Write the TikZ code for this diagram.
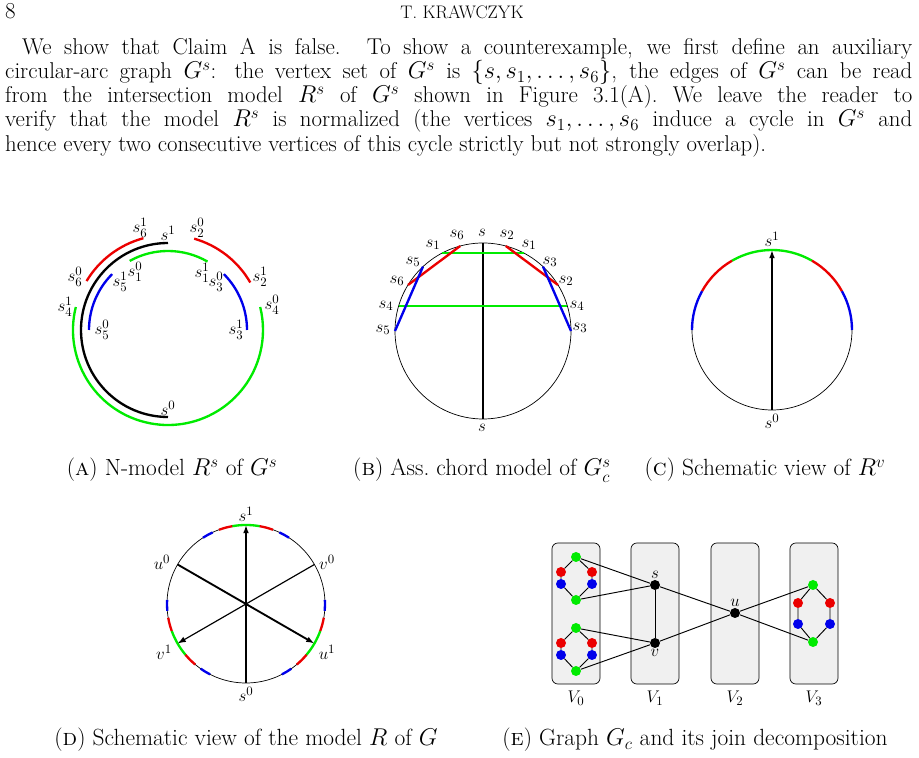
\documentclass[tikz,border=0pt]{standalone}
\usepackage{amsmath,amssymb}
\usetikzlibrary{arrows.meta}
\definecolor{arcgreen}{RGB}{0,235,0}
\definecolor{arcred}{RGB}{235,0,0}
\definecolor{arcblue}{RGB}{0,0,235}
\begin{document}
\begin{tikzpicture}[x=0.03cm, y=0.03cm, >={Latex[length=7pt,width=5pt]},
    txt/.style={inner sep=0pt, anchor=base west, font=\fontsize{19.5}{22}\selectfont},
    capt/.style={inner sep=0pt, anchor=base, font=\fontsize{20}{23}\selectfont},
    lab/.style={inner sep=0pt, font=\fontsize{15}{17}\selectfont},
    thk/.style={line width=2pt},
    vtx/.style={circle, fill, inner sep=0pt, minimum size=0.3cm},
    part/.style={draw, fill=gray!12, rounded corners=5pt, line width=0.6pt}]
    \useasboundingbox (0,0) rectangle (919,758);
    % page head and text
    \node[txt] (pnum) at (5,739) {8};
    \node[txt, anchor=base, font=\fontsize{15.5}{18}\selectfont] (head) at (462,739) {T. KRAWCZYK};
    \node[txt] (l1) at (22,703) {\makebox[26.7cm][s]{We show that Claim A is false. To show a counterexample, we first define an auxiliary}};
    \node[txt] (l2) at (5,679) {\makebox[27.21cm][s]{circular-arc graph $G^s$: the vertex set of $G^s$ is $\{s,s_1,\ldots,s_6\}$, the edges of $G^s$ can be read}};
    \node[txt] (l3) at (5,655) {\makebox[27.21cm][s]{from the intersection model $R^s$ of $G^s$ shown in Figure 3.1(A). We leave the reader to}};
    \node[txt] (l4) at (5,631) {\makebox[27.21cm][s]{verify that the model $R^s$ is normalized (the vertices $s_1,\ldots,s_6$ induce a cycle in $G^s$ and}};
    \node[txt] (l5) at (5,606) {hence every two consecutive vertices of this cycle strictly but not strongly overlap).};

    % (A) N-model
    \coordinate (ca) at (168,428);
    \draw[thk] (ca) ++(90:87) arc[start angle=90, end angle=270, radius=87];
    \draw[thk, arcgreen] (ca) ++(166:95) arc[start angle=166, end angle=374, radius=95];
    \draw[thk, arcred] (ca) ++(105:95) arc[start angle=105, end angle=149, radius=95];
    \draw[thk, arcred] (ca) ++(30:95) arc[start angle=30, end angle=74, radius=95];
    \draw[thk, arcgreen] (ca) ++(60:79) arc[start angle=60, end angle=119, radius=79];
    \draw[thk, arcblue] (ca) ++(135:79) arc[start angle=135, end angle=180, radius=79];
    \draw[thk, arcblue] (ca) ++(0:79) arc[start angle=0, end angle=45, radius=79];
    \node[lab] (a61) at (140,530) {$s_6^1$};
    \node[lab] (a1) at (168,525) {$s^1$};
    \node[lab] (a20) at (197,530) {$s_2^0$};
    \node[lab] (a60) at (75,481) {$s_6^0$};
    \node[lab] (a51) at (120,476) {$s_5^1$};
    \node[lab] (a10) at (135,486) {$s_1^0$};
    \node[lab] (a41) at (65,451) {$s_4^1$};
    \node[lab] (a50) at (102,428) {$s_5^0$};
    \node[lab] (a11) at (202,485) {$s_1^1$};
    \node[lab] (a30) at (216,476) {$s_3^0$};
    \node[lab] (a21) at (260,481) {$s_2^1$};
    \node[lab] (a40) at (272,453) {$s_4^0$};
    \node[lab] (a31) at (236,428) {$s_3^1$};
    \node[lab] (a0) at (168,350) {$s^0$};
    \node[capt] (capa) at (172,282) {(\textsc{a}) N-model $R^s$ of $G^s$};

    % (B) chord model
    \coordinate (cb) at (483,427);
    \draw[line width=0.6pt] (cb) circle[radius=88];
    \path (cb) ++(90:88) coordinate (st) (cb) ++(270:88) coordinate (sb);
    \draw[thk] (st) -- (sb);
    \path (cb) ++(117.5:88) coordinate (g1) (cb) ++(62.5:88) coordinate (g2);
    \path (cb) ++(163.5:88) coordinate (g3) (cb) ++(16.5:88) coordinate (g4);
    \draw[thk, arcgreen] (g1) -- (g2);
    \draw[thk, arcgreen] (g3) -- (g4);
    \path (cb) ++(105:88) coordinate (r1) (cb) ++(148.5:88) coordinate (r2);
    \path (cb) ++(75:88) coordinate (r3) (cb) ++(31.5:88) coordinate (r4);
    \draw[thk, arcred] (r1) -- (r2);
    \draw[thk, arcred] (r3) -- (r4);
    \path (cb) ++(133:88) coordinate (b1) (cb) ++(180:88) coordinate (b2);
    \path (cb) ++(47:88) coordinate (b3) (cb) ++(0:88) coordinate (b4);
    \draw[thk, arcblue] (b1) -- (b2);
    \draw[thk, arcblue] (b3) -- (b4);
    \node[lab] (bs) at (482,525) {$s$};
    \node[lab] (b6) at (457,523) {$s_6$};
    \node[lab] (b2l) at (507,523) {$s_2$};
    \node[lab] (b1l) at (433,513) {$s_1$};
    \node[lab] (b1r) at (529,513) {$s_1$};
    \node[lab] (b5l) at (413,496) {$s_5$};
    \node[lab] (b3l) at (550,496) {$s_3$};
    \node[lab] (b6r) at (397,477) {$s_6$};
    \node[lab] (b2r) at (566,477) {$s_2$};
    \node[lab] (b4l) at (386,452) {$s_4$};
    \node[lab] (b4r) at (577,452) {$s_4$};
    \node[lab] (b5r) at (383,428) {$s_5$};
    \node[lab] (b3r) at (580,430) {$s_3$};
    \node[lab] (bsb) at (482,330) {$s$};
    \node[capt] (capb) at (482,282) {(\textsc{b}) Ass.\ chord model of $G_c^s$};

    % (C) schematic view of R^v
    \coordinate (cc) at (772,428);
    \draw[line width=0.6pt] (cc) circle[radius=80];
    \draw[thk, arcgreen] (cc) ++(60:80) arc[start angle=60, end angle=120, radius=80];
    \draw[thk, arcred] (cc) ++(120:80) arc[start angle=120, end angle=151, radius=80];
    \draw[thk, arcred] (cc) ++(29:80) arc[start angle=29, end angle=60, radius=80];
    \draw[thk, arcblue] (cc) ++(151:80) arc[start angle=151, end angle=180, radius=80];
    \draw[thk, arcblue] (cc) ++(0:80) arc[start angle=0, end angle=29, radius=80];
    \path (cc) ++(270:80) coordinate (c0) (cc) ++(90:80) coordinate (c1);
    \draw[->, line width=1.6pt] (c0) -- (c1);
    \node[lab] (cs1) at (772,519) {$s^1$};
    \node[lab] (cs0) at (772,337) {$s^0$};
    \node[capt] (capc) at (765,282) {(\textsc{c}) Schematic view of $R^v$};

    % (D) schematic view of R
    \coordinate (cd) at (246,154);
    \draw[line width=0.6pt] (cd) circle[radius=79];
    \foreach \c in {90,210,330} {
        \draw[thk, arcgreen] (cd) ++(\c-10:79) arc[start angle=\c-10, end angle=\c+10, radius=79];
        \draw[thk, arcred] (cd) ++(\c+10:79) arc[start angle=\c+10, end angle=\c+20, radius=79];
        \draw[thk, arcred] (cd) ++(\c-20:79) arc[start angle=\c-20, end angle=\c-10, radius=79];
        \draw[thk, arcblue] (cd) ++(\c+25:79) arc[start angle=\c+25, end angle=\c+33, radius=79];
        \draw[thk, arcblue] (cd) ++(\c-33:79) arc[start angle=\c-33, end angle=\c-25, radius=79];
    }
    \path (cd) ++(270:79) coordinate (ds0) (cd) ++(90:79) coordinate (ds1);
    \path (cd) ++(150:79) coordinate (du0) (cd) ++(330:79) coordinate (du1);
    \path (cd) ++(30:79) coordinate (dv0) (cd) ++(210:79) coordinate (dv1);
    \draw[->, line width=1.6pt] (ds0) -- (ds1);
    \draw[->, line width=1.6pt] (du0) -- (du1);
    \draw[->, line width=1pt] (dv0) -- (dv1);
    \node[lab] (ls1) at (246,244) {$s^1$};
    \node[lab] (ls0) at (246,64) {$s^0$};
    \node[lab] (lu0) at (162,196) {$u^0$};
    \node[lab] (lv0) at (327,196) {$v^0$};
    \node[lab] (lv1) at (164,106) {$v^1$};
    \node[lab] (lu1) at (327,106) {$u^1$};
    \node[capt] (capd) at (246,12) {(\textsc{d}) Schematic view of the model $R$ of $G$};

    % (E) graph G_c and its join decomposition
    \foreach \x/\i in {576/0, 655/1, 735/2, 814/3} {
        \draw[part] (\x-24,74) rectangle (\x+24,215);
        \node[lab] (V\i) at (\x,60) {$V_{\i}$};
    }
    \foreach \n/\y in {p/201, q/130} {
        \node[vtx, arcgreen] (\n gt) at (576,\y) {};
        \node[vtx, arcred] (\n rl) at (561,\y-15) {};
        \node[vtx, arcred] (\n rr) at (592,\y-15) {};
        \node[vtx, arcblue] (\n bl) at (561,\y-27) {};
        \node[vtx, arcblue] (\n br) at (592,\y-27) {};
        \node[vtx, arcgreen] (\n gb) at (576,\y-43) {};
    }
    \node[vtx, arcgreen] (wgt) at (813,173) {};
    \node[vtx, arcred] (wrl) at (798,155) {};
    \node[vtx, arcred] (wrr) at (830,155) {};
    \node[vtx, arcblue] (wbl) at (798,134) {};
    \node[vtx, arcblue] (wbr) at (830,134) {};
    \node[vtx, arcgreen] (wgb) at (813,116) {};
    \node[vtx] (s) at (655,173) {};
    \node[vtx] (v) at (655,115) {};
    \node[vtx] (u) at (735,145) {};
    \node[lab, above=1pt] (ls) at (s.north) {$s$};
    \node[lab, below=1pt] (lv) at (v.south) {$v$};
    \node[lab, above=1pt] (lu) at (u.north) {$u$};
    \foreach \n in {p,q,w} {
        \draw[line width=0.8pt] (\n gt) -- (\n rl) -- (\n bl) -- (\n gb) -- (\n br) -- (\n rr) -- (\n gt);
    }
    \draw[line width=0.8pt] (pgt) -- (s) -- (pgb);
    \draw[line width=0.8pt] (qgt) -- (v) -- (qgb);
    \draw[line width=0.8pt] (s) -- (v);
    \draw[line width=0.8pt] (s) -- (u) -- (v);
    \draw[line width=0.8pt] (wgt) -- (u) -- (wgb);
    \node[capt] (cape) at (695,12) {(\textsc{e}) Graph $G_c$ and its join decomposition};
\end{tikzpicture}
\end{document}
